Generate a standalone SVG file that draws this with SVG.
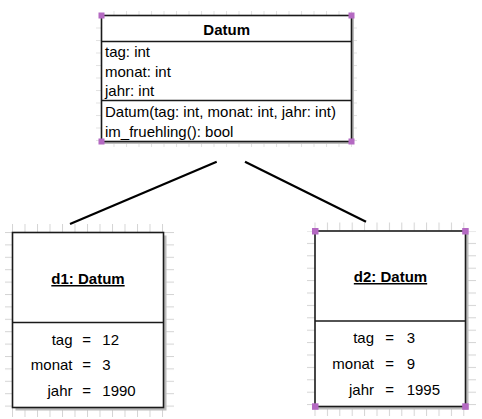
<svg xmlns="http://www.w3.org/2000/svg" width="482" height="419" viewBox="0 0 482 419">
<style>
text{font-family:"Liberation Sans",Arial,sans-serif;font-size:15px;fill:#000}
.b{font-weight:bold}
.u{text-decoration:underline}
.box{fill:#fff;stroke:#1a1a1a;stroke-width:1.6}
.div{stroke:#1a1a1a;stroke-width:1.6}
.sh{fill:#bcbcbc}
.h{fill:#b469c2}
.conn{stroke:#000;stroke-width:2.2;fill:none}
</style>
<defs>
<pattern id="gv1" patternUnits="userSpaceOnUse" x="12" y="0" width="12.5" height="20"><rect x="0" y="0" width="1" height="20" fill="#d4d4d4"/></pattern>
<pattern id="gh1" patternUnits="userSpaceOnUse" x="0" y="232" width="20" height="12.4"><rect x="0" y="0" width="20" height="1" fill="#d4d4d4"/></pattern>
<pattern id="gv2" patternUnits="userSpaceOnUse" x="314.5" y="0" width="12.4" height="20"><rect x="0" y="0" width="1" height="20" fill="#d4d4d4"/></pattern>
<pattern id="gh2" patternUnits="userSpaceOnUse" x="0" y="230.5" width="20" height="12.4"><rect x="0" y="0" width="20" height="1" fill="#d4d4d4"/></pattern>
<pattern id="gv0" patternUnits="userSpaceOnUse" x="101" y="0" width="12.5" height="20"><rect x="0" y="0" width="1" height="20" fill="#e2e2e2"/></pattern>
<pattern id="gh0" patternUnits="userSpaceOnUse" x="0" y="15" width="20" height="12.5"><rect x="0" y="0" width="20" height="1" fill="#e2e2e2"/></pattern>
</defs>
<rect width="482" height="419" fill="#fff"/>

<g id="Datum">
<rect x="104" y="11" width="248" height="5" fill="url(#gv0)"/>
<rect x="104" y="142" width="248" height="5" fill="url(#gv0)"/>
<rect x="96" y="18" width="5" height="123" fill="url(#gh0)"/>
<rect x="352" y="18" width="5" height="123" fill="url(#gh0)"/>
<rect class="sh" x="104" y="18" width="250" height="126"/>
<rect class="box" x="101.5" y="15.5" width="250" height="126"/>
<line class="div" x1="101.5" y1="41.5" x2="351.5" y2="41.5"/>
<line class="div" x1="101.5" y1="100.5" x2="351.5" y2="100.5"/>
<text class="b" x="226.7" y="34.5" text-anchor="middle">Datum</text>
<text x="105" y="57">tag: int</text>
<text x="105" y="76.5">monat: int</text>
<text x="105" y="96">jahr: int</text>
<text x="105" y="117">Datum(tag: int, monat: int, jahr: int)</text>
<text x="105" y="136.5">im_fruehling(): bool</text>
<rect class="h" x="98.5" y="12.5" width="6" height="6"/>
<rect class="h" x="348.5" y="12.5" width="6" height="6"/>
<rect class="h" x="98.5" y="138.5" width="6" height="6"/>
<rect class="h" x="348.5" y="138.5" width="6" height="6"/>
</g>

<g id="d1">
<rect x="12" y="224" width="152" height="8" fill="url(#gv1)"/>
<rect x="12" y="408" width="152" height="9" fill="url(#gv1)"/>
<rect x="5" y="232" width="7" height="176" fill="url(#gh1)"/>
<rect x="164" y="232" width="10" height="176" fill="url(#gh1)"/>
<rect class="sh" x="15.5" y="235.5" width="151" height="175"/>
<rect class="box" x="12.5" y="232.5" width="151" height="175"/>
<line class="div" x1="12.5" y1="322.5" x2="163.5" y2="322.5"/>
<text class="b u" x="88" y="284" text-anchor="middle">d1: Datum</text>
<text x="72.5" y="344.5" text-anchor="end">tag</text>
<text x="86.7" y="344.5" text-anchor="middle">=</text>
<text x="102.3" y="344.5">12</text>
<text x="72.5" y="370" text-anchor="end">monat</text>
<text x="86.7" y="370" text-anchor="middle">=</text>
<text x="102.3" y="370">3</text>
<text x="72.5" y="395.5" text-anchor="end">jahr</text>
<text x="86.7" y="395.5" text-anchor="middle">=</text>
<text x="102.3" y="395.5">1990</text>
</g>

<g id="d2">
<rect x="314" y="222.5" width="152" height="8" fill="url(#gv2)"/>
<rect x="314" y="407" width="152" height="9" fill="url(#gv2)"/>
<rect x="307" y="231" width="8" height="176" fill="url(#gh2)"/>
<rect x="466" y="231" width="10" height="176" fill="url(#gh2)"/>
<rect class="sh" x="318" y="234" width="150.5" height="175.5"/>
<rect class="box" x="315" y="231" width="150.5" height="175.5"/>
<line class="div" x1="315" y1="321" x2="465.5" y2="321"/>
<text class="b u" x="390.5" y="282" text-anchor="middle">d2: Datum</text>
<text x="374" y="342.7" text-anchor="end">tag</text>
<text x="389.7" y="342.7" text-anchor="middle">=</text>
<text x="406.7" y="342.7">3</text>
<text x="374" y="368.5" text-anchor="end">monat</text>
<text x="389.7" y="368.5" text-anchor="middle">=</text>
<text x="406.7" y="368.5">9</text>
<text x="374" y="394.5" text-anchor="end">jahr</text>
<text x="389.7" y="394.5" text-anchor="middle">=</text>
<text x="406.7" y="394.5">1995</text>
<rect class="h" x="312" y="228" width="6.5" height="6.5"/>
<rect class="h" x="462.2" y="228" width="6.5" height="6.5"/>
<rect class="h" x="312" y="403.3" width="6.5" height="6.5"/>
<rect class="h" x="462.2" y="403.3" width="6.5" height="6.5"/>
</g>

<g id="connectors">
<line class="conn" x1="70" y1="224" x2="216.7" y2="161.7"/>
<line class="conn" x1="245" y1="161.7" x2="366" y2="221.7"/>
</g>
</svg>
